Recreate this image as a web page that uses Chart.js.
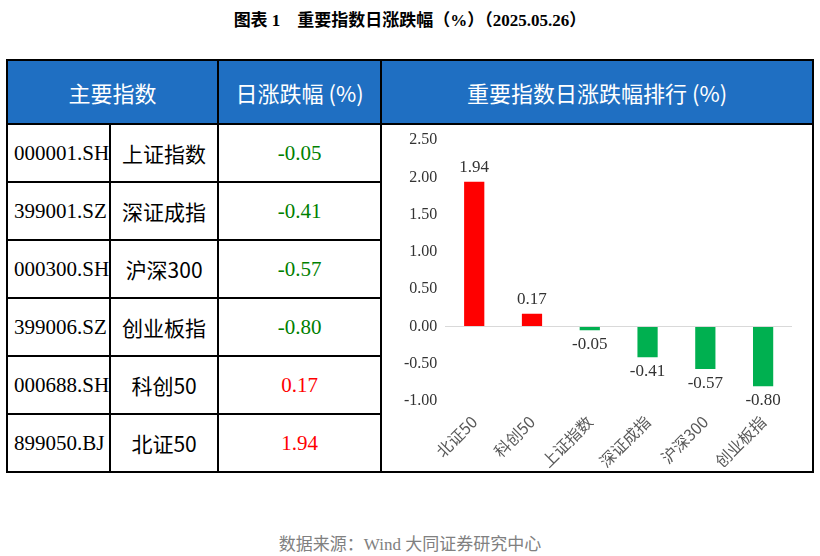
<!DOCTYPE html>
<html><head><meta charset="utf-8">
<script src="https://cdn.jsdelivr.net/npm/chart.js@4/dist/chart.umd.min.js"></script>
<style>
body{margin:0;width:820px;height:556px;background:#fff;font-family:"Liberation Serif","Noto Sans CJK SC",serif;position:relative}
#title{position:absolute;top:6px;left:0;width:820px;text-align:center;font-size:17px;font-weight:bold;color:#000}
table{position:absolute;left:6px;top:59px;border-collapse:collapse;width:808px}
td{border:2px solid #000;height:58px;font-size:21px;padding:0;box-sizing:border-box}
th{background:#1f6fc2;color:#fff;font-weight:normal;font-size:22px;height:60px;border:2px solid #000;font-family:"Noto Sans CJK SC",sans-serif}
.code{width:100px;padding-left:6px}
.name{width:108px;text-align:center;font-family:"Noto Sans CJK SC","Liberation Serif";}
.val{width:163px;text-align:center}
#chartbox{position:absolute;left:388px;top:122px;width:424px;height:356px}
#src{position:absolute;top:530px;left:0;width:820px;text-align:center;color:#808080;font-size:17px}
</style></head><body>
<div id="title">图表 1　重要指数日涨跌幅（%）（2025.05.26）</div>
<table id="tbl">
<tr><th colspan="2">主要指数</th><th>日涨跌幅 (%)</th><th>重要指数日涨跌幅排行 (%)</th></tr>
</table>
<div id="chartbox"><canvas id="c" width="424" height="356"></canvas></div>
<div id="src">数据来源：Wind 大同证券研究中心</div>
<script>
const codes = ['000001.SH','399001.SZ','000300.SH','399006.SZ','000688.SH','899050.BJ'];
const names = ['上证指数','深证成指','沪深300','创业板指','科创50','北证50'];
const changes = [-0.05,-0.41,-0.57,-0.80,0.17,1.94];
const rankLabels = ['北证50','科创50','上证指数','深证成指','沪深300','创业板指'];
const rankValues = [1.94,0.17,-0.05,-0.41,-0.57,-0.80];

const tbl = document.getElementById('tbl');
codes.forEach((c,i)=>{
  const tr = document.createElement('tr');
  tr.innerHTML = '<td class="code">'+c+'</td><td class="name">'+names[i]+'</td><td class="val" style="color:'+(changes[i]<0?'#008000':'#ff0000')+'">'+changes[i].toFixed(2)+'</td>'+(i==0?'<td rowspan="6"></td>':'');
  tbl.appendChild(tr);
});

const valueLabels = {
  id:'valueLabels',
  afterDatasetsDraw(chart){
    const ctx = chart.ctx;
    const meta = chart.getDatasetMeta(0);
    ctx.save();
    ctx.font = '17px "Liberation Serif", serif';
    ctx.fillStyle = '#333';
    ctx.textAlign = 'center';
    meta.data.forEach((bar,i)=>{
      const v = rankValues[i];
      if (v >= 0) { ctx.textBaseline='bottom'; ctx.fillText(v.toFixed(2), bar.x, bar.y-6); }
      else { ctx.textBaseline='top'; ctx.fillText(v.toFixed(2), bar.x, bar.y+6); }
    });
    ctx.restore();
  }
};

new Chart(document.getElementById('c'), {
  type:'bar',
  data:{labels:rankLabels, datasets:[{data:rankValues,
    backgroundColor:rankValues.map(v=>v>=0?'#ff0000':'#00b050'), barPercentage:0.35, categoryPercentage:1}]},
  options:{responsive:false, animation:false, maintainAspectRatio:false,
    layout:{padding:{top:18,right:20,left:8,bottom:4}},
    plugins:{legend:{display:false},tooltip:{enabled:false}},
    scales:{
      y:{min:-1,max:2.5,ticks:{stepSize:0.5,color:'#333',font:{size:16,family:'"Liberation Serif"'},callback:v=>v.toFixed(2),padding:8},
        grid:{display:true,drawTicks:false,color:ctx=>ctx.tick.value===0?'#d9d9d9':'rgba(0,0,0,0)'},border:{display:false}},
      x:{grid:{display:false},border:{display:false},
        ticks:{color:'#595959',maxRotation:45,minRotation:45,font:{size:16,family:'"Noto Sans CJK SC"'}}}
    }},
  plugins:[valueLabels]
});
</script>
</body></html>
